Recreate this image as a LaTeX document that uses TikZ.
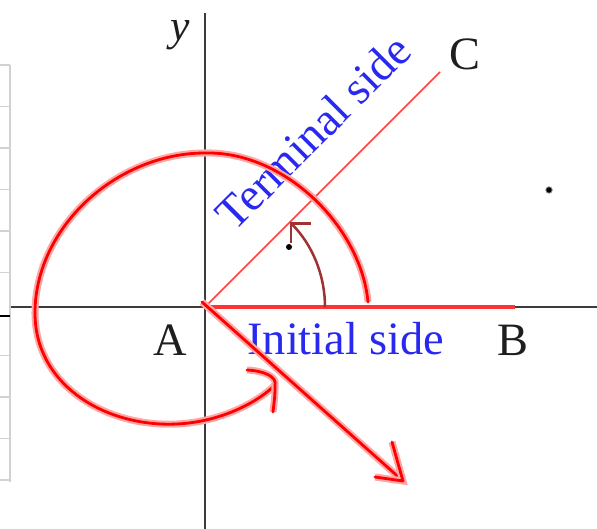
\documentclass[tikz,border=0pt]{standalone}
\usepackage{fontspec}
\setmainfont{Liberation Serif}
\usepackage{xcolor}
\usetikzlibrary{arrows.meta, positioning, calc}
\definecolor{axisgray}{RGB}{60,60,60}
\definecolor{arcred}{RGB}{160,50,50}
\definecolor{lblblue}{RGB}{40,40,240}
\definecolor{lblblack}{RGB}{30,30,30}
\tikzset{
    axisline/.style={axisgray, line width=1.9pt},
    gridline/.style={gray!35, line width=0.9pt},
    handred/.style={red, line width=2pt, line cap=round, line join=round,
        preaction={draw, red!35, line width=5pt}},
    lbl/.style={font=\fontsize{33}{38}\selectfont, inner sep=0pt},
}

\begin{document}
\begin{tikzpicture}
    \useasboundingbox (-5.125,-5.55) rectangle (9.8,7.675);

    % 左边的表格
    \draw[gridline] (-4.875,-4.375) -- (-4.875,6.05);
    \foreach \k in {0,...,5,7,8,9,10} {
        \draw[gridline] (-5.125,{6.05-1.0375*\k}) -- (-4.875,{6.05-1.0375*\k});
    }
    \draw[black, line width=1pt] (-5.125,-0.225) -- (-4.875,-0.225);

    % 坐标轴
    \coordinate (O) at (0,0);
    \draw[axisline] (-4.85,0) -- (9.8,0);
    \draw[axisline] (0,-5.55) -- (0,7.35);
    \node[lbl, font=\fontsize{31}{36}\selectfont\itshape, anchor=base, lblblack] (ylab) at (-0.625,6.65) {y};

    % 始边和终边
    \coordinate (B) at (7.75,0);
    \coordinate (C) at (5.875,5.875);
    \draw[red!80, line width=2.2pt] (O) -- (B);
    \draw[red!75, line width=1.2pt] (O) -- (C);

    % 标签
    \node[lbl, anchor=base, lblblack] (lblA) at (-0.875,-1.22) {A};
    \node[lbl, anchor=base, lblblack] (lblB) at (7.7,-1.22) {B};
    \node[lbl, anchor=base, lblblack] (lblC) at (6.5,5.925) {C};
    \node[lbl, anchor=base, lblblue] (lblInit) at (3.525,-1.2) {Initial side};
    \node[lbl, lblblue, rotate=45] (lblTerm) at (2.7,4.375) {Terminal side};

    % 角
    \draw[arcred, line width=1.8pt, -{Straight Barb[length=3.5mm, width=7mm]}]
        (3,0) arc[start angle=0, end angle=45, radius=3];
    \fill (2.1,1.5) circle (0.075);
    \draw[gray, fill=black, line width=0.6pt] (8.6,2.925) circle (0.08);

    % 手画的红线
    \coordinate (hook) at (1.75,-1.95);
    \draw[handred] (4.075,0.125)
        .. controls (3.9,2.0) and (2.0,3.9) .. (0,3.85)
        .. controls (-2.2,3.85) and (-4.25,2.0) .. (-4.25,-0.15)
        .. controls (-4.25,-1.9) and (-2.6,-2.93) .. (-0.9,-2.93)
        .. controls (0.3,-2.93) and (1.3,-2.4) .. (hook);
    \draw[handred] (1.05,-1.575) .. controls (1.5,-1.6) and (1.8,-1.75) .. (hook)
        .. controls (1.75,-2.2) .. (1.7,-2.625);

    \coordinate (tip) at (4.95,-4.35);
    \draw[handred] (-0.075,0.125) -- (tip);
    \draw[handred] (4.675,-3.375) -- (tip) -- (4.25,-4.25);
\end{tikzpicture}
\end{document}
